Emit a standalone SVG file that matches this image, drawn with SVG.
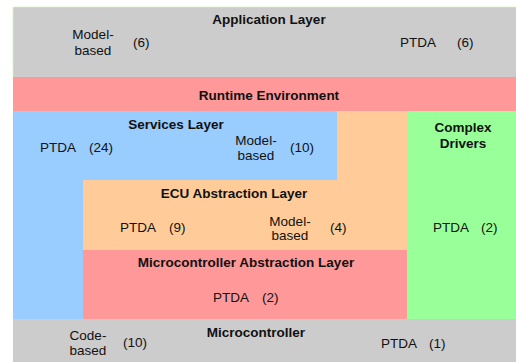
<svg xmlns="http://www.w3.org/2000/svg" width="516" height="362" viewBox="0 0 516 362">
<style>
text{font-family:"Liberation Sans",Arial,sans-serif;font-size:13.5px;fill:#111}
.b{font-weight:bold}
.m{text-anchor:middle}
.gray{fill:#cccccc}.red{fill:#ff9999}.blue{fill:#99ccff}.orange{fill:#ffcc99}.green{fill:#99ff99}
</style>
<rect width="516" height="362" fill="#ffffff"/>
<g id="application-layer">
<rect class="gray" x="13" y="7" width="503" height="70" stroke="#e2f7d2" stroke-width="1"/>
<rect class="gray" x="13.5" y="7.5" width="502.5" height="69.5"/>
<text class="b m" x="269" y="24">Application Layer</text>
<text class="m" x="93" y="39">Model-</text>
<text class="m" x="93" y="55">based</text>
<text x="133" y="47">(6)</text>
<text x="400" y="47">PTDA</text>
<text x="457" y="47">(6)</text>
</g>
<g id="runtime-environment">
<rect class="red" x="13" y="77" width="503" height="34"/>
<text class="b m" x="269" y="100">Runtime Environment</text>
</g>
<g id="services-layer">
<path class="blue" d="M13 111H337V180H83V319H13Z"/>
<text class="b m" x="176" y="129">Services Layer</text>
<text x="40" y="152">PTDA</text>
<text x="89" y="152">(24)</text>
<text class="m" x="256" y="145">Model-</text>
<text class="m" x="256" y="160">based</text>
<text x="290" y="152">(10)</text>
</g>
<g id="ecu-abstraction-layer">
<path class="orange" d="M337 111H407V250H83V180H337Z"/>
<text class="b m" x="234" y="198">ECU Abstraction Layer</text>
<text x="120" y="232">PTDA</text>
<text x="169" y="232">(9)</text>
<text class="m" x="290" y="226">Model-</text>
<text class="m" x="290" y="240">based</text>
<text x="330" y="232">(4)</text>
</g>
<g id="complex-drivers">
<rect class="green" x="407" y="111" width="109" height="208"/>
<text class="b m" x="463" y="132">Complex</text>
<text class="b m" x="463" y="148">Drivers</text>
<text x="433" y="232">PTDA</text>
<text x="481" y="232">(2)</text>
</g>
<g id="microcontroller-abstraction-layer">
<rect class="red" x="83" y="250" width="324" height="69"/>
<text class="b m" x="246" y="267">Microcontroller Abstraction Layer</text>
<text x="213" y="302">PTDA</text>
<text x="262" y="302">(2)</text>
</g>
<g id="microcontroller">
<rect class="gray" x="13" y="319" width="503" height="43"/>
<text class="b m" x="256" y="337">Microcontroller</text>
<text class="m" x="88" y="340">Code-</text>
<text class="m" x="88" y="355">based</text>
<text x="123" y="347">(10)</text>
<text x="381" y="348">PTDA</text>
<text x="429" y="348">(1)</text>
</g>
<g id="connectors"/>
</svg>
